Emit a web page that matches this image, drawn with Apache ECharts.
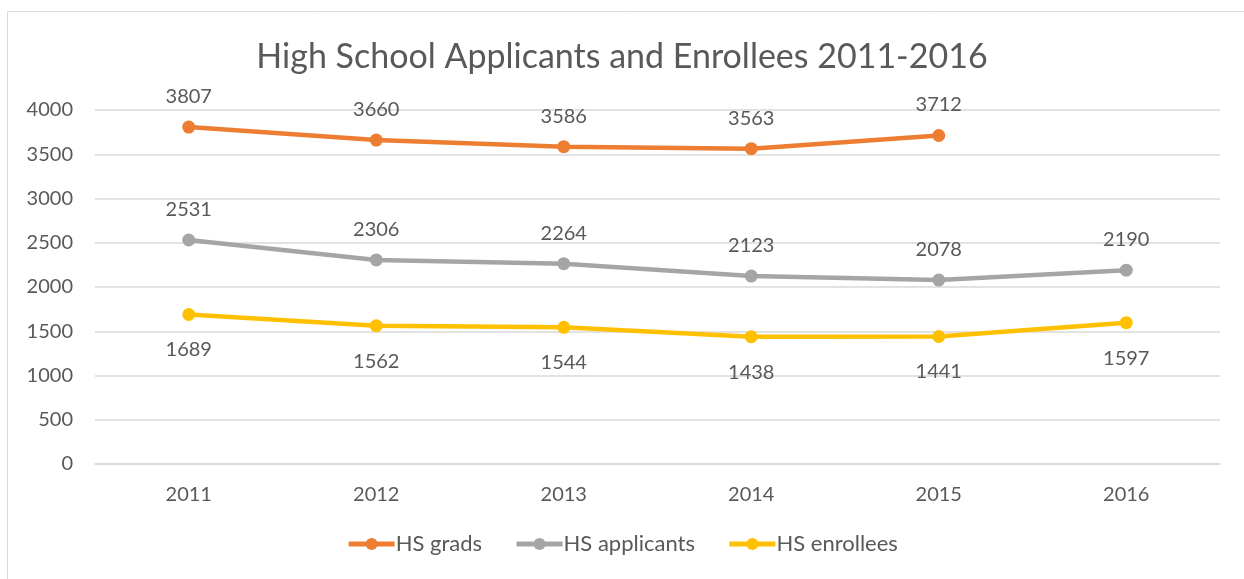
<!DOCTYPE html>
<html>
<head>
<meta charset="utf-8">
<script src="https://cdn.jsdelivr.net/npm/echarts@6/dist/echarts.min.js"></script>
<style>
  html, body { margin: 0; padding: 0; background: #fff; }
  #chart { width: 1244px; height: 579px; }
</style>
</head>
<body>
<div id="chart"></div>
<script>
// chart data
const years = ['2011', '2012', '2013', '2014', '2015', '2016'];
const hsGrads = [3807, 3660, 3586, 3563, 3712, null];
const hsApplicants = [2531, 2306, 2264, 2123, 2078, 2190];
const hsEnrollees = [1689, 1562, 1544, 1438, 1441, 1597];

const textColor = '#595959';
const font = 'Lato, "Open Sans", sans-serif';

const chart = echarts.init(document.getElementById('chart'));

function lineSeries(name, data, color, labelPos, dist) {
  return {
    name: name,
    type: 'line',
    data: data,
    symbol: 'circle',
    symbolSize: 13,
    lineStyle: { color: color, width: 4.5 },
    itemStyle: { color: color },
    label: {
      show: true,
      position: labelPos,
      distance: dist,
      color: textColor,
      fontSize: 20,
      fontFamily: font
    },
    emphasis: { disabled: true }
  };
}

chart.setOption({
  animation: false,
  title: {
    text: 'High School Applicants and Enrollees 2011-2016',
    left: 'center',
    top: 35,
    textStyle: {
      color: textColor,
      fontSize: 34,
      fontWeight: 'normal',
      fontFamily: font
    }
  },
  graphic: [{
    type: 'rect',
    shape: { x: 7.5, y: 11.5, width: 1260, height: 600 },
    style: { fill: 'none', stroke: '#d9d9d9', lineWidth: 1 },
    silent: true
  }],
  legend: {
    bottom: 19,
    left: 'center',
    itemWidth: 46,
    itemHeight: 15,
    itemGap: 32,
    lineStyle: { width: 5 },
    textStyle: { color: textColor, fontSize: 22, fontFamily: font, padding: [0, 0, 0, -4] },
    data: ['HS grads', 'HS applicants', 'HS enrollees']
  },
  grid: {
    left: 95,
    right: 24,
    top: 110,
    bottom: 115,
    containLabel: false
  },
  xAxis: {
    type: 'category',
    data: years,
    boundaryGap: true,
    axisLine: { lineStyle: { color: '#d9d9d9', width: 1.5 } },
    axisTick: { show: false },
    axisLabel: {
      color: textColor,
      fontSize: 20,
      fontFamily: font,
      margin: 21
    }
  },
  yAxis: {
    type: 'value',
    min: 0,
    max: 4000,
    interval: 500,
    axisLine: { show: false },
    axisTick: { show: false },
    splitLine: { lineStyle: { color: '#d9d9d9', width: 1.5 } },
    axisLabel: {
      color: textColor,
      fontSize: 20,
      fontFamily: font,
      margin: 22,
      formatter: function (v) { return String(v); }
    }
  },
  series: [
    lineSeries('HS grads', hsGrads, '#ED7D31', 'top', 14),
    lineSeries('HS applicants', hsApplicants, '#A5A5A5', 'top', 14),
    lineSeries('HS enrollees', hsEnrollees, '#FFC000', 'bottom', 19)
  ]
});
</script>
</body>
</html>
